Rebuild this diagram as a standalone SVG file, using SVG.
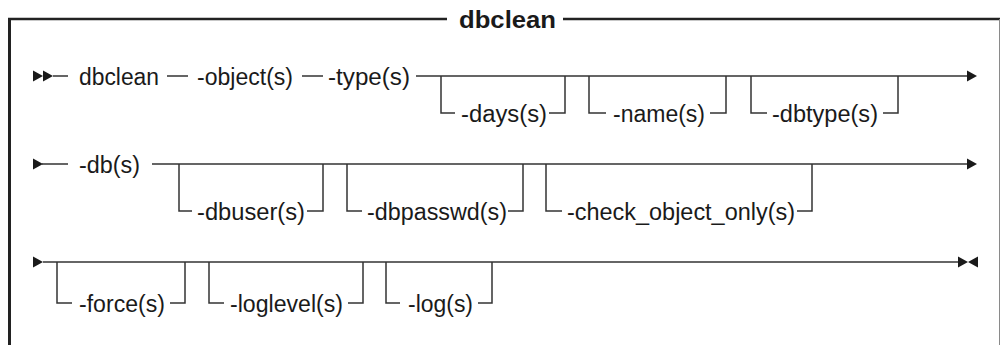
<svg xmlns="http://www.w3.org/2000/svg" width="1002" height="345" viewBox="0 0 1002 345">
  <style>
    .bg { fill: #ffffff; }
    .frame { fill: none; stroke: #222222; stroke-width: 2.5; }
    .frame-l { fill: none; stroke: #222222; stroke-width: 3; }
    .frame-r { fill: none; stroke: #8a8a8a; stroke-width: 1; }
    .title { font-family: "Liberation Sans", Arial, Helvetica, sans-serif; font-size: 24px; font-weight: bold; fill: #1a1a1a; }
    .lbl { font-family: "Liberation Sans", Arial, Helvetica, sans-serif; font-size: 23px; fill: #1a1a1a; }
    .rail { fill: none; stroke: #333333; stroke-width: 1.5; }
    .head { fill: #1a1a1a; stroke: none; }
  </style>
  <defs>
    <path id="tri-r" d="M0,-5.5 L10,0 L0,5.5 Z"/>
    <path id="tri-l" d="M0,-5.5 L-10,0 L0,5.5 Z"/>
  </defs>

  <rect class="bg" x="0" y="0" width="1002" height="345"/>

  <!-- frame with title -->
  <g id="frame">
    <path class="frame" d="M8,19 H447 M563,19 H1000"/>
    <path class="frame-l" d="M9.5,18 V345"/>
    <path class="frame-r" d="M999.5,19 V345"/>
    <text class="title" x="459" y="28" textLength="97" lengthAdjust="spacingAndGlyphs">dbclean</text>
  </g>

  <!-- rails, optional branches and arrowheads -->
  <g id="connectors">
    <!-- row 1 -->
    <path class="rail" d="M53,76 H68 M167,76 H188 M302,76 H323 M416,76 H968"/>
    <path class="rail" d="M441,76 V113 H455 M549,113 H565 V76"/>
    <path class="rail" d="M589,76 V113 H606 M710,113 H726 V76"/>
    <path class="rail" d="M751,76 V113 H767 M883,113 H898 V76"/>
    <use class="head" href="#tri-r" x="33" y="76"/>
    <use class="head" href="#tri-r" x="43" y="76"/>
    <use class="head" href="#tri-r" x="967" y="76"/>

    <!-- row 2 -->
    <path class="rail" d="M42,164 H68 M152,164 H968"/>
    <path class="rail" d="M179,164 V211 H192 M307,211 H323 V164"/>
    <path class="rail" d="M347,164 V211 H362 M508,211 H523 V164"/>
    <path class="rail" d="M546,164 V211 H562 M797,211 H812 V164"/>
    <use class="head" href="#tri-r" x="33" y="164"/>
    <use class="head" href="#tri-r" x="967" y="164"/>

    <!-- row 3 -->
    <path class="rail" d="M43,262 H959"/>
    <path class="rail" d="M57,262 V303 H72 M170,303 H185 V262"/>
    <path class="rail" d="M209,262 V303 H224 M348,303 H363 V262"/>
    <path class="rail" d="M386,262 V303 H400 M478,303 H492 V262"/>
    <use class="head" href="#tri-r" x="33" y="262"/>
    <use class="head" href="#tri-r" x="958" y="262"/>
    <use class="head" href="#tri-l" x="978" y="262"/>
  </g>

  <!-- row 1 items -->
  <g id="cmd"><text class="lbl" x="79" y="85" textLength="80" lengthAdjust="spacingAndGlyphs">dbclean</text></g>
  <g id="object"><text class="lbl" x="197" y="85" textLength="96" lengthAdjust="spacingAndGlyphs">-object(s)</text></g>
  <g id="type"><text class="lbl" x="328" y="85" textLength="82" lengthAdjust="spacingAndGlyphs">-type(s)</text></g>
  <g id="days"><text class="lbl" x="461" y="122" textLength="86" lengthAdjust="spacingAndGlyphs">-days(s)</text></g>
  <g id="name"><text class="lbl" x="613" y="122" textLength="92" lengthAdjust="spacingAndGlyphs">-name(s)</text></g>
  <g id="dbtype"><text class="lbl" x="772" y="122" textLength="106" lengthAdjust="spacingAndGlyphs">-dbtype(s)</text></g>

  <!-- row 2 items -->
  <g id="db"><text class="lbl" x="79" y="173" textLength="61" lengthAdjust="spacingAndGlyphs">-db(s)</text></g>
  <g id="dbuser"><text class="lbl" x="197" y="220" textLength="108" lengthAdjust="spacingAndGlyphs">-dbuser(s)</text></g>
  <g id="dbpasswd"><text class="lbl" x="367" y="220" textLength="140" lengthAdjust="spacingAndGlyphs">-dbpasswd(s)</text></g>
  <g id="check"><text class="lbl" x="567" y="220" textLength="228" lengthAdjust="spacingAndGlyphs">-check_object_only(s)</text></g>

  <!-- row 3 items -->
  <g id="force"><text class="lbl" x="79" y="312" textLength="86" lengthAdjust="spacingAndGlyphs">-force(s)</text></g>
  <g id="loglevel"><text class="lbl" x="230" y="312" textLength="113" lengthAdjust="spacingAndGlyphs">-loglevel(s)</text></g>
  <g id="log"><text class="lbl" x="408" y="312" textLength="65" lengthAdjust="spacingAndGlyphs">-log(s)</text></g>
</svg>
